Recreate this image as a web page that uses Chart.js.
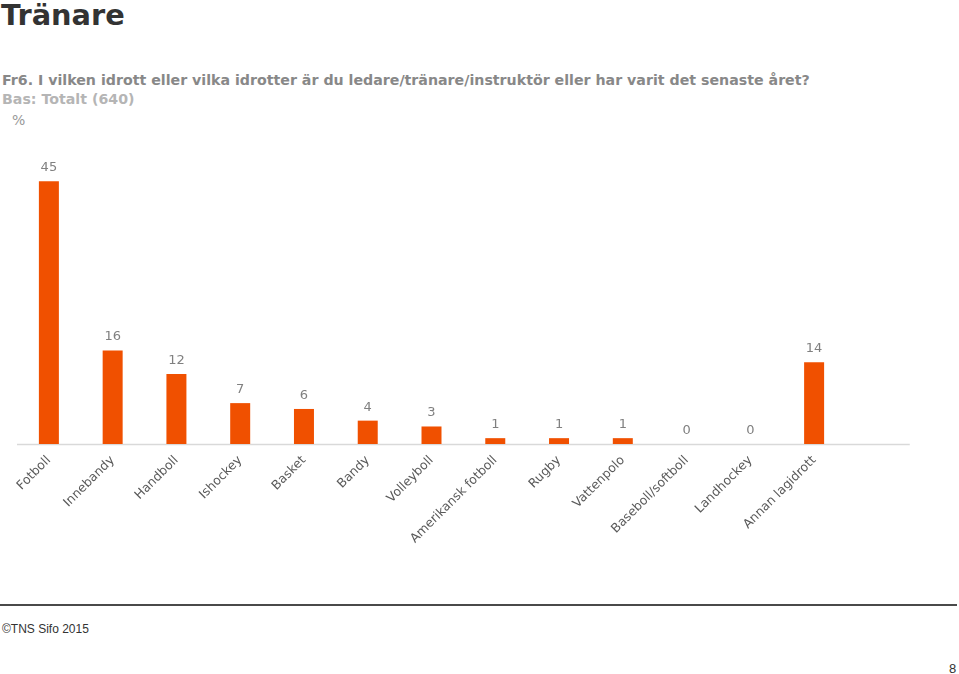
<!DOCTYPE html>
<html><head><meta charset="utf-8">
<script src="https://cdn.jsdelivr.net/npm/chart.js@4/dist/chart.umd.min.js"></script>
<style>
html,body{margin:0;padding:0;background:#fff;width:959px;height:674px;overflow:hidden;position:relative;font-family:"DejaVu Sans",Verdana,sans-serif}
.t{position:absolute;white-space:nowrap}
#title{left:1px;top:-2px;font-size:28.8px;font-weight:bold;color:#333;font-family:"DejaVu Sans",sans-serif}
#q{left:2px;top:72px;font-size:14.2px;font-weight:bold;color:#888}
#bas{left:2px;top:91px;font-size:14.2px;font-weight:bold;color:#b5b5b5}
#pct{left:12px;top:112px;font-size:14px;color:#999}
#foot{position:absolute;left:0;top:604px;width:957px;height:2px;background:#4a4a4a}
#copy{left:2px;top:622px;font-size:12px;color:#333;font-family:"Liberation Sans Narrow","Liberation Sans",Arial,sans-serif}
#pg{left:949px;top:661px;font-size:13px;color:#333;font-family:"Liberation Sans Narrow","Liberation Sans",sans-serif}
#wrap{position:absolute;left:0;top:130px;width:959px;height:440px}
</style></head><body>
<div class="t" id="title">Tränare</div>
<div class="t" id="q">Fr6. I vilken idrott eller vilka idrotter är du ledare/tränare/instruktör eller har varit det senaste året?</div>
<div class="t" id="bas">Bas: Totalt (640)</div>
<div class="t" id="pct">%</div>
<div id="wrap"><canvas id="c" width="959" height="440"></canvas></div>
<div id="foot"></div>
<div class="t" id="copy">©TNS Sifo 2015</div>
<div class="t" id="pg">8</div>
<script>
const categories = ["Fotboll","Innebandy","Handboll","Ishockey","Basket","Bandy","Volleyboll","Amerikansk fotboll","Rugby","Vattenpolo","Baseboll/softboll","Landhockey","Annan lagidrott"];
const values = [45,16,12,7,6,4,3,1,1,1,0,0,14];

const valueLabels = {
  id:'valueLabels',
  afterDatasetsDraw(chart){
    const ctx = chart.ctx;
    const meta = chart.getDatasetMeta(0);
    ctx.save();
    ctx.font = '13px "DejaVu Sans", Verdana, sans-serif';
    ctx.fillStyle = '#808080';
    ctx.textAlign = 'center';
    ctx.textBaseline = 'bottom';
    meta.data.forEach((bar,i)=>{
      ctx.fillText(String(values[i]), bar.x, bar.y - 7);
    });
    ctx.restore();
  }
};
const baseLine = {
  id:'baseLine',
  beforeDatasetsDraw(chart){
    const ctx = chart.ctx, a = chart.chartArea;
    const step = (a.right - a.left)/categories.length;
    ctx.save();
    ctx.strokeStyle = '#d9d9d9';
    ctx.lineWidth = 1.5;
    ctx.beginPath();
    ctx.moveTo(a.left, a.bottom + 0.5);
    ctx.lineTo(a.right + step, a.bottom + 0.5);
    ctx.stroke();
    ctx.restore();
  }
};

new Chart(document.getElementById('c'), {
  type:'bar',
  data:{labels:categories, datasets:[{data:values, backgroundColor:'#F05000', borderWidth:0, barPercentage:0.98, categoryPercentage:0.32}]},
  options:{
    responsive:false, animation:false,
    layout:{padding:{left:17,right:113,top:22,bottom:0}},
    plugins:{legend:{display:false}, tooltip:{enabled:false}},
    scales:{
      y:{display:false, min:0, max:50},
      x:{
        afterFit(scale){ scale.height = 126; },
        grid:{display:false, drawTicks:false},
        border:{display:false},
        ticks:{autoSkip:false, minRotation:45, maxRotation:45, padding:9, color:'#595959', font:{size:12.5, family:'"DejaVu Sans", Verdana, sans-serif'}}
      }
    }
  },
  plugins:[valueLabels, baseLine]
});
</script>
</body></html>
